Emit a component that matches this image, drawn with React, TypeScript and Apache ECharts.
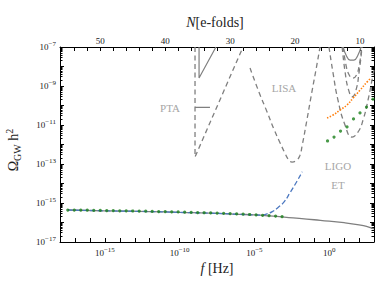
import React, { useEffect, useRef } from "react";
import * as echarts from "echarts";

// ---------- axis ranges (log10 units) ----------
const LOGF_MIN = -18;
const LOGF_MAX = 3;
const LOGO_MIN = -17;
const LOGO_MAX = -7;
const LOGF_AT_N10 = 2.064; // frequency (log10 Hz) where N = 10 e-folds
const nOf = (lf: number) => 10 + (LOGF_AT_N10 - lf) * Math.LN10;

// ---------- tick labels ----------
const xLabelExps = [-15, -10, -5, 0];
const yLabelExps = [-17, -15, -13, -11, -9, -7];
const nLabels = [50, 40, 30, 20, 10];

// ---------- data ----------
// main solid gray curve: [log10 f, log10 Omega h^2]
const mainLogF = [-17.48, -15, -12, -10, -8, -6, -5, -4, -3, -2, -1, 0, 1, 2, 2.5, 3];
const mainLogO = [-15.36, -15.4, -15.44, -15.48, -15.52, -15.58, -15.61, -15.66, -15.72, -15.79, -15.86, -15.93, -16.01, -16.12, -16.2, -16.33];

// blue dashed curve
const blueLogF = [-17.48, -15, -12, -10, -8, -6, -5, -4.6, -4.2, -3.8, -3.4, -3.0, -2.6, -2.2, -1.8];
const blueLogO = [-15.36, -15.4, -15.44, -15.48, -15.52, -15.58, -15.61, -15.62, -15.57, -15.44, -15.22, -14.93, -14.45, -13.95, -13.4];

// green dots, one per e-fold (N)
const greenLowN = [55, 54, 53, 52, 51, 50, 49, 48, 47, 46, 45, 44, 43, 42, 41, 40, 39, 38, 37, 36, 35, 34, 33, 32, 31, 30, 29, 28, 27, 26, 25, 24, 23, 22];
const greenLowO = [-15.36, -15.36, -15.37, -15.37, -15.38, -15.38, -15.39, -15.39, -15.4, -15.4, -15.41, -15.42, -15.42, -15.43, -15.44, -15.44, -15.45, -15.46, -15.47, -15.48, -15.49, -15.5, -15.51, -15.52, -15.53, -15.54, -15.56, -15.57, -15.59, -15.61, -15.63, -15.65, -15.67, -15.7];
const greenHighN = [15, 14, 13, 12, 11, 10, 9, 8];
const greenHighO = [-11.82, -11.62, -11.31, -11.1, -10.69, -10.38, -10.08, -9.67];

// orange dotted curve
const orangeLogF = [-0.14, 0.26, 0.73, 1.2, 1.6, 2.07, 2.54, 2.8];
const orangeLogO = [-10.64, -10.49, -10.23, -9.97, -9.62, -9.21, -8.79, -8.59];

// sensitivity curves
const ptaDashF = [-8.97, -8.97, -5.76];
const ptaDashO = [-7, -12.64, -7];
const ptaSolidF = [-8.7, -8.7, -7.57];
const ptaSolidO = [-7, -8.59, -7];
const ptaBarF = [-8.97, -7.97];
const ptaBarO = [-10.1, -10.1];
const lisaF = [-5.29, -4.7, -4.15, -3.7, -3.28, -2.95, -2.75, -2.48, -2.15, -1.95, -1.81, -1.5, -1.21, -0.9, -0.61];
const lisaO = [-8.08, -9.3, -10.33, -11.2, -11.92, -12.45, -12.74, -12.9, -12.79, -12.55, -12.08, -10.8, -9.54, -8.25, -7.0];
const etF = [-0.01, 0.26, 0.59, 1.06, 1.53, 1.93, 2.27, 2.6, 2.87, 3.0];
const etO = [-7, -8.33, -9.72, -11.0, -11.62, -11.36, -10.74, -9.72, -8.69, -8.18];
const ligoDesF = [0.87, 1.07, 1.3, 1.55, 1.8, 2.0, 2.2];
const ligoDesO = [-7, -8.3, -9.2, -9.55, -9.2, -8.3, -7];
const ligoO3F = [0.95, 1.12, 1.35, 1.58, 1.82, 2.02, 2.18];
const ligoO3O = [-7, -7.9, -8.45, -8.6, -8.45, -7.9, -7];
const ligoNowF = [0.93, 1.13, 1.4, 1.66, 1.93, 2.13];
const ligoNowO = [-7, -7.41, -7.67, -7.67, -7.41, -7];

const zip = (a: number[], b: number[]) => a.map((v, i) => [v, b[i]]);
const range = (a: number, b: number, s: number) => {
  const out: number[] = [];
  for (let v = a; v <= b + 1e-9; v += s) out.push(v);
  return out;
};

const FONT = "'Liberation Serif', 'Times New Roman', serif";
const GRAY = "#7f7f7f";
const LABEL_GRAY = "#a6a6a6";

const powLabel = (v: number) => `{b|10}{s|${v < 0 ? "\u2212" : ""}${Math.abs(Math.round(v))}}`;
const powRich = {
  b: { fontSize: 9, fontFamily: FONT, lineHeight: 14, color: "#222" },
  s: { fontSize: 7, fontFamily: FONT, lineHeight: 6, verticalAlign: "top", color: "#222" },
};

const yMinor: number[] = [];
for (let d = LOGO_MIN; d < LOGO_MAX; d++) for (let k = 2; k <= 9; k++) yMinor.push(d + Math.log10(k));

export default function App() {
  const ref = useRef<HTMLDivElement>(null);
  useEffect(() => {
    if (!ref.current) return;
    const chart = echarts.init(ref.current, null, { renderer: "svg" });
    const axisLine = { show: true, onZero: false, lineStyle: { color: "#000", width: 1 } };
    const noLine = { show: false, onZero: false };
    const dashed = (data: number[][], name: string, smooth = false) => ({
      type: "line", name, data, showSymbol: false, smooth, xAxisIndex: 0, yAxisIndex: 0,
      lineStyle: { color: GRAY, width: 1.3, type: [5, 3.5] }, z: 2,
    });
    chart.setOption({
      animation: false,
      grid: { left: 60, right: 17, top: 47, bottom: 53 },
      xAxis: [
        {
          type: "value", position: "bottom", min: LOGF_MIN, max: LOGF_MAX,
          axisLine, splitLine: { show: false },
          axisTick: { inside: true, length: 4, customValues: range(LOGF_MIN, LOGF_MAX, 1), lineStyle: { color: "#000" } },
          axisLabel: { customValues: xLabelExps, formatter: powLabel, rich: powRich, margin: 4 },
        },
        {
          type: "value", position: "top", min: nOf(LOGF_MAX), max: nOf(LOGF_MIN), inverse: true,
          axisLine, splitLine: { show: false },
          axisTick: { inside: true, length: 4, customValues: range(8, 56, 2), lineStyle: { color: "#000" } },
          axisLabel: { customValues: nLabels, fontSize: 9, fontFamily: FONT, color: "#222", margin: 2 },
        },
      ],
      yAxis: [
        {
          type: "value", position: "left", min: LOGO_MIN, max: LOGO_MAX,
          axisLine, splitLine: { show: false },
          axisTick: { inside: true, length: 4, customValues: range(LOGO_MIN, LOGO_MAX, 1), lineStyle: { color: "#000" } },
          axisLabel: { customValues: yLabelExps, formatter: powLabel, rich: powRich, margin: 4, align: "right" },
        },
        {
          type: "value", position: "left", min: LOGO_MIN, max: LOGO_MAX,
          axisLine: noLine, splitLine: { show: false }, axisLabel: { show: false },
          axisTick: { inside: true, length: 2.5, customValues: yMinor, lineStyle: { color: "#000" } },
        },
        {
          type: "value", position: "right", min: LOGO_MIN, max: LOGO_MAX,
          axisLine, splitLine: { show: false }, axisLabel: { show: false },
          axisTick: { inside: true, length: 4, customValues: range(LOGO_MIN, LOGO_MAX, 1), lineStyle: { color: "#000" } },
        },
        {
          type: "value", position: "right", min: LOGO_MIN, max: LOGO_MAX,
          axisLine: noLine, splitLine: { show: false }, axisLabel: { show: false },
          axisTick: { inside: true, length: 2.5, customValues: yMinor, lineStyle: { color: "#000" } },
        },
      ],
      series: [
        dashed(zip(ptaDashF, ptaDashO), "PTA"),
        dashed(zip(lisaF, lisaO), "LISA", true),
        dashed(zip(etF, etO), "ET", true),
        dashed(zip(ligoDesF, ligoDesO), "LIGO design", true),
        dashed(zip(ligoO3F, ligoO3O), "LIGO O3", true),
        { type: "line", data: zip(ptaSolidF, ptaSolidO), showSymbol: false, lineStyle: { color: GRAY, width: 1.2 } },
        { type: "line", data: zip(ptaBarF, ptaBarO), showSymbol: false, lineStyle: { color: GRAY, width: 1.2 } },
        { type: "line", data: zip(ligoNowF, ligoNowO), showSymbol: false, smooth: true, lineStyle: { color: GRAY, width: 1.2 } },
        { type: "line", data: zip(mainLogF, mainLogO), showSymbol: false, smooth: true, lineStyle: { color: GRAY, width: 1.3 }, z: 3 },
        { type: "line", data: zip(blueLogF, blueLogO), showSymbol: false, smooth: true, lineStyle: { color: "#4c78c0", width: 1.3, type: [5, 2.5] }, z: 4 },
        { type: "line", data: zip(orangeLogF, orangeLogO), showSymbol: false, smooth: true, lineStyle: { color: "#ff7f0e", width: 1.6, type: [1.5, 1.5] }, z: 4 },
        { type: "scatter", xAxisIndex: 1, data: zip(greenLowN, greenLowO), symbolSize: 3.2, itemStyle: { color: "#1a7f1a" }, z: 5 },
        { type: "scatter", xAxisIndex: 1, data: zip(greenHighN, greenHighO), symbolSize: 3.2, itemStyle: { color: "#1a7f1a" }, z: 5 },
      ],
      graphic: [
        { type: "text", x: 170, y: 108, style: { text: "PTA", fontSize: 11, fontFamily: FONT, fill: LABEL_GRAY, align: "center", verticalAlign: "middle" } },
        { type: "text", x: 284, y: 88, style: { text: "LISA", fontSize: 11, fontFamily: FONT, fill: LABEL_GRAY, align: "center", verticalAlign: "middle" } },
        { type: "text", x: 338, y: 166, style: { text: "LIGO", fontSize: 11, fontFamily: FONT, fill: LABEL_GRAY, align: "center", verticalAlign: "middle" } },
        { type: "text", x: 338, y: 185, style: { text: "ET", fontSize: 11, fontFamily: FONT, fill: LABEL_GRAY, align: "center", verticalAlign: "middle" } },
        {
          type: "text", x: 217, y: 268,
          style: {
            text: "{i|f} [Hz]", align: "center", verticalAlign: "middle", fontSize: 14, fontFamily: FONT, fill: "#222",
            rich: { i: { fontSize: 14, fontFamily: FONT, fontStyle: "italic", fill: "#222" } },
          },
        },
        {
          type: "text", x: 215, y: 22,
          style: {
            text: "{i|N}[e-folds]", align: "center", verticalAlign: "middle", fontSize: 14, fontFamily: FONT, fill: "#222",
            rich: { i: { fontSize: 14, fontFamily: FONT, fontStyle: "italic", fill: "#222" } },
          },
        },
        {
          type: "text", x: 13, y: 150, rotation: Math.PI / 2,
          style: {
            text: "{b|\u03A9}{sub|GW}{b| h}{sup|2}", align: "center", verticalAlign: "middle", fill: "#222",
            rich: {
              b: { fontSize: 14, fontFamily: FONT, lineHeight: 18, fill: "#222" },
              sub: { fontSize: 10, fontFamily: FONT, lineHeight: 12, verticalAlign: "bottom", fill: "#222" },
              sup: { fontSize: 10, fontFamily: FONT, lineHeight: 10, verticalAlign: "top", fill: "#222" },
            },
          },
        },
      ],
    });
    return () => chart.dispose();
  }, []);
  return <div ref={ref} style={{ width: 391, height: 295, position: "absolute", left: 0, top: 0 }} />;
}
